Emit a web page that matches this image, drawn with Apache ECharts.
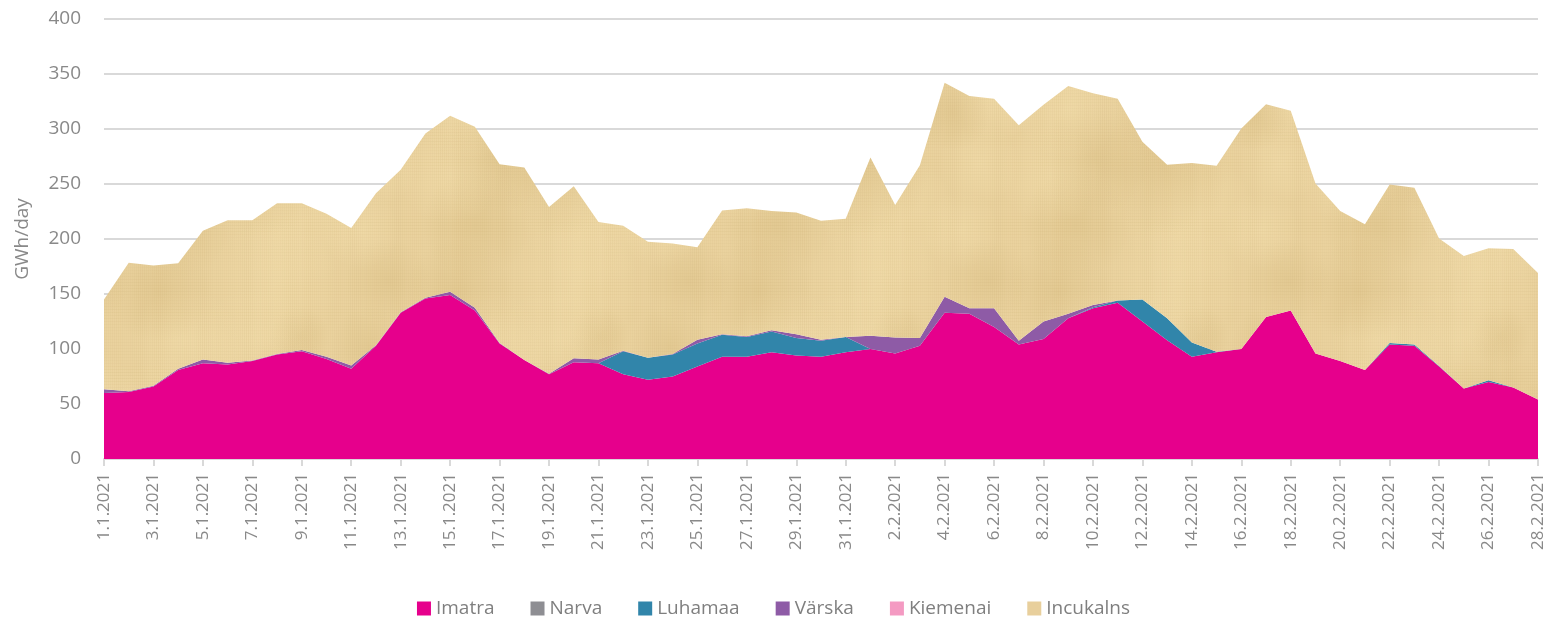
<!DOCTYPE html>
<html>
<head>
<meta charset="utf-8">
<script src="https://cdn.jsdelivr.net/npm/echarts@6/dist/echarts.min.js"></script>
<style>html,body{margin:0;padding:0;background:#fff}#c{width:1547px;height:623px}</style>
</head>
<body>
<div id="c"></div>
<script>
// 1.1.2021 .. 28.2.2021
const categories = [
'1.1.2021','2.1.2021','3.1.2021','4.1.2021','5.1.2021','6.1.2021','7.1.2021','8.1.2021','9.1.2021','10.1.2021',
'11.1.2021','12.1.2021','13.1.2021','14.1.2021','15.1.2021','16.1.2021','17.1.2021','18.1.2021','19.1.2021','20.1.2021',
'21.1.2021','22.1.2021','23.1.2021','24.1.2021','25.1.2021','26.1.2021','27.1.2021','28.1.2021','29.1.2021','30.1.2021',
'31.1.2021','1.2.2021','2.2.2021','3.2.2021','4.2.2021','5.2.2021','6.2.2021','7.2.2021','8.2.2021','9.2.2021',
'10.2.2021','11.2.2021','12.2.2021','13.2.2021','14.2.2021','15.2.2021','16.2.2021','17.2.2021','18.2.2021','19.2.2021',
'20.2.2021','21.2.2021','22.2.2021','23.2.2021','24.2.2021','25.2.2021','26.2.2021','27.2.2021','28.2.2021'];

const imatra = [60,61,66,81,87,86,89,95,98,91, 82,103,133,146,149,135,105,90,77,88,
  87,77,72,75,84,93,93,97,94,93, 97,100,96,103,133,132,120,104,109,128,
  137,142,125,108,93,97,100,129,135,96, 89,81,104,103,84,64,70,65,54];
const narva = [0,0,0,0,0,0,0,0,0,0, 0,0,0,0,0,0,0,0,0,0,
  0,0,0,0,0,0,0,0,0,0, 0,0,0,0,0,0,0,0,0,0,
  0,0,0,0,0,0,0,0,0,0, 0,0,0,0,0,0,0,0,0];
const luhamaa = [0,0,0,0,0,0,0,0,0,0, 0,0,0,0,0,0,0,0,0,0,
  0,21,20,20,21,20,18,19,16,14.5, 14,0,0,0,0,0,0,0,0,0,
  1,2,20,20,13,0.5,0,0,0,0, 0,0,1.5,1,0.5,0,1.5,0,0];
const varska = [3.5,0.5,0.5,1,3.5,1.5,0.5,0.5,1,2, 3,0.5,0.5,0.5,3,2.5,0.5,0,0.5,3.5,
  3.5,0.5,0,0.5,3.5,0.5,0.5,1,3.5,1, 0,12,14.5,7,14.5,5,17,3.5,16,4,
  2,0,0,0,0,0,0,0,0,0, 0,0,0,0,0,0,0,0,0];
const kiemenai = [0,0,0,0,0,0,0,0,0,0, 0,0,0,0,0,0,0,0,0,0,
  0,0,0,0,0,0,0,0,0,0, 0,0,0,0,0,0,0,0,0,0,
  0,0,0,0,0,0,0,0,0,0, 0,0,0,0,0,0,0,0,0];
const incukalns = [81.5,117,109.5,96,117,129.5,127.5,137,133.5,130, 125,138,129.5,149.5,160,164.5,162.5,175,151.5,156.5,
  125,113.5,105.5,100.5,84,112.5,116.5,108.5,110.5,108, 107.5,162,120.5,157,194.5,193,190.5,196,197,207,
  192.5,183.5,143.5,139.5,163,169,200.5,193.5,181.5,154.5, 136.5,132.5,144,142.5,116,120.5,120,126,115];
const yTicks = [0,50,100,150,200,250,300,350,400];

// papyrus-like texture (deterministic, style only), seamless tile
function makeTexture(){
  const W = 300, H = 300;
  const cv = document.createElement('canvas');
  cv.width = W; cv.height = H;
  const g = cv.getContext('2d');
  g.fillStyle = '#EAD29E'; g.fillRect(0,0,W,H);
  for (let i=0;i<18;i++){
    const cx0 = (i*97)%W, cy0 = (i*61+37)%H, r = 30 + (i*13)%40;
    const dark = i%2===0;
    for (const ox of [-W,0,W]) for (const oy of [-H,0,H]){
      const cx = cx0+ox, cy = cy0+oy;
      if (cx+r<0||cx-r>W||cy+r<0||cy-r>H) continue;
      const grd = g.createRadialGradient(cx,cy,0,cx,cy,r);
      grd.addColorStop(0, dark ? 'rgba(200,170,105,0.22)' : 'rgba(250,232,185,0.30)');
      grd.addColorStop(1, dark ? 'rgba(200,170,105,0)' : 'rgba(250,232,185,0)');
      g.fillStyle = grd;
      g.beginPath(); g.arc(cx,cy,r,0,Math.PI*2); g.fill();
    }
  }
  for (let x=0;x<W;x+=2){
    const a = 0.03 + 0.06*Math.abs(Math.sin(x*Math.PI*2*7/W)*Math.cos(x*Math.PI*2*3/W));
    g.fillStyle = 'rgba(185,155,95,'+a.toFixed(3)+')';
    g.fillRect(x,0,1,H);
  }
  for (let y=0;y<H;y+=3){
    const a = 0.03 + 0.05*Math.abs(Math.sin(y*Math.PI*2*5/H)*Math.cos(y*Math.PI*2*2/H));
    g.fillStyle = 'rgba(180,150,90,'+a.toFixed(3)+')';
    g.fillRect(0,y,W,1);
  }
  return cv;
}
const tex = makeTexture();

const chart = echarts.init(document.getElementById('c'), null, {renderer:'canvas'});
const gray = '#898989';
const FONT = '"Open Sans", sans-serif';
function mk(name, data, color, fill){
  return {
    name, type:'line', stack:'total', data, symbol:'none', showSymbol:false,
    lineStyle:{width:0}, itemStyle:{color},
    areaStyle:{color: fill || color, opacity:1},
    emphasis:{disabled:true}
  };
}
chart.setOption({
  animation:false,
  grid:{left:104, right:9, top:19, bottom:164},
  legend:{
    bottom:0, left:'center', itemWidth:14, itemHeight:14, itemGap:36, icon:'rect',
    textStyle:{color:'#7f7f7f', fontSize:19, fontFamily:FONT},
    data:['Imatra','Narva','Luhamaa','Värska','Kiemenai','Incukalns']
  },
  xAxis:{
    type:'category', data:categories, boundaryGap:false,
    axisLine:{lineStyle:{color:'#d9d9d9', width:2}},
    axisTick:{show:true, interval:1, length:7, lineStyle:{color:'#d9d9d9', width:2}},
    axisLabel:{interval:1, rotate:90, color:gray, fontSize:17, fontFamily:FONT, margin:14},
    splitLine:{show:false}
  },
  yAxis:{
    type:'value', min:0, max:400, interval:50,
    name:'GWh/day', nameLocation:'middle', nameGap:72, nameRotate:90,
    nameTextStyle:{color:gray, fontSize:19, fontFamily:FONT},
    axisLine:{show:false}, axisTick:{show:false},
    axisLabel:{color:gray, fontSize:19, fontFamily:FONT, margin:23,
      formatter: v => yTicks.includes(v) ? String(v) : ''},
    splitLine:{lineStyle:{color:'#d9d9d9', width:2}}
  },
  series:[
    mk('Imatra', imatra, '#E6008C'),
    mk('Narva', narva, '#8E8E93'),
    mk('Luhamaa', luhamaa, '#3185AA'),
    mk('Värska', varska, '#8E5BA6'),
    mk('Kiemenai', kiemenai, '#F49AC2'),
    mk('Incukalns', incukalns, '#E8CF9C', {image: tex, repeat:'repeat'})
  ]
});
</script>
</body>
</html>
